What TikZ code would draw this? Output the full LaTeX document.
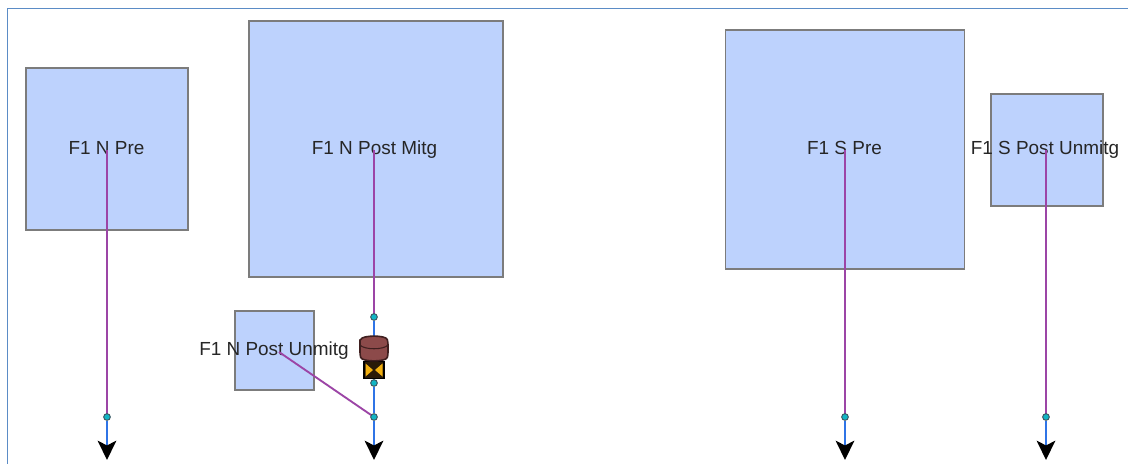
\documentclass[tikz,border=0pt]{standalone}
\usepackage{fontspec}
\setmainfont{Liberation Sans}
\usetikzlibrary{arrows.meta}
\definecolor{boxfill}{HTML}{BDD2FD}
\definecolor{boxline}{HTML}{7C7C7C}
\definecolor{framec}{HTML}{5B8CC6}
\definecolor{linkp}{HTML}{9C45A6}
\definecolor{linkb}{HTML}{2F74E6}
\definecolor{jfill}{HTML}{12B5C4}
\definecolor{jline}{HTML}{3A5560}
\definecolor{brown1}{HTML}{8C4A4A}
\definecolor{brown2}{HTML}{3F1F1F}
\definecolor{gatebody}{HTML}{2A1A08}
\definecolor{gatetri}{HTML}{F2B010}
\pgfdeclarelayer{linklayer}
\pgfsetlayers{linklayer,main}
\tikzset{
  px/.style={x=0.75pt,y=-0.75pt},
  subbasin/.style={draw=boxline,fill=boxfill,line width=0.9pt,inner sep=0pt,outer sep=0pt},
  txt/.style={inner sep=0pt,outer sep=0pt,anchor=base,font=\fontsize{14.2}{16}\selectfont,text=black!85},
  junc/.style={circle,draw=jline,fill=jfill,line width=0.7pt,minimum size=5pt,inner sep=0pt},
  overland/.style={draw=linkp,line width=1.4pt},
  reach/.style={draw=linkb,line width=1.6pt},
  outflow/.style={reach,-{Stealth[length=14.5pt,width=14pt,inset=3.6pt,color=black]}},
}
\begin{document}
\begin{tikzpicture}[px]
\useasboundingbox (0,0) rectangle (1128,464);
\begin{pgfonlayer}{linklayer}
\fill[white] (0,0) rectangle (1128,464);
\draw[framec,line width=1.2pt] (7.5,464) -- (7.5,8.5) -- (1128,8.5);
% subbasin boxes
\node[subbasin,minimum width=121.5pt,minimum height=121.5pt] (np) at (107,149) {};
\node[subbasin,minimum width=190.5pt,minimum height=192pt] (nm) at (376,149) {};
\node[subbasin,minimum width=59.25pt,minimum height=59.25pt] (nu) at (274.5,350.5) {};
\node[subbasin,minimum width=179.25pt,minimum height=179.25pt] (sp) at (845,149.5) {};
\node[subbasin,minimum width=84pt,minimum height=84pt] (su) at (1047,150) {};
% labels
\node[txt] (lnp) at (106.5,154) {F1 N Pre};
\node[txt] (lnm) at (374.5,154) {F1 N Post Mitg};
\node[txt] (lnu) at (274,355) {F1 N Post Unmitg};
\node[txt] (lsp) at (844.5,154) {F1 S Pre};
\node[txt] (lsu) at (1045,154) {F1 S Post Unmitg};
\end{pgfonlayer}

\coordinate (nustart) at (279,352);
\coordinate (o1) at (107,460);
\coordinate (o2) at (374,460);
\coordinate (o3) at (845,460);
\coordinate (o4) at (1046,460);
% junctions
\node[junc] (j1) at (107,417) {};
\node[junc] (j2) at (374,317) {};
\node[junc] (j3) at (374,383) {};
\node[junc] (j4) at (374,417) {};
\node[junc] (j5) at (845,417) {};
\node[junc] (j6) at (1046,417) {};

% connectors, under the junctions
\begin{pgfonlayer}{linklayer}
\draw[overland] (lnp.base) ++(0.5,-4) -- (j1.center);
\draw[overland] (lnm.base) ++(-0.5,-4) -- (j2.center);
\draw[overland] (nustart) -- (j4.center);
\draw[overland] (lsp.base) ++(0.5,-4) -- (j5.center);
\draw[overland] (lsu.base) ++(1,-4) -- (j6.center);
\draw[reach] (j2) -- (j3);
\draw[reach] (j3) -- (j4);
\draw[outflow] (j1) -- (o1);
\draw[outflow] (j4) -- (o2);
\draw[outflow] (j5) -- (o3);
\draw[outflow] (j6) -- (o4);
\end{pgfonlayer}

% reservoir symbol
\node[draw=black,fill=gatebody,line width=1pt,minimum width=15pt,minimum height=13pt,inner sep=0pt] (res) at (374,370) {};
\fill[gatetri] (365.5,363.5) -- (373,370) -- (365.5,376.5) -- cycle;
\fill[gatetri] (382.5,363.5) -- (375,370) -- (382.5,376.5) -- cycle;
\path[draw=brown2,fill=brown1,line width=1.2pt,rounded corners=2pt]
  (360,342) -- (360,355) .. controls (362,362) and (386,362) .. (388,355) -- (388,342)
  .. controls (386,335) and (362,335) .. (360,342) -- cycle;
\draw[brown2,line width=0.8pt] (360,345) .. controls (364,350) and (384,350) .. (388,345);
\end{tikzpicture}
\end{document}
